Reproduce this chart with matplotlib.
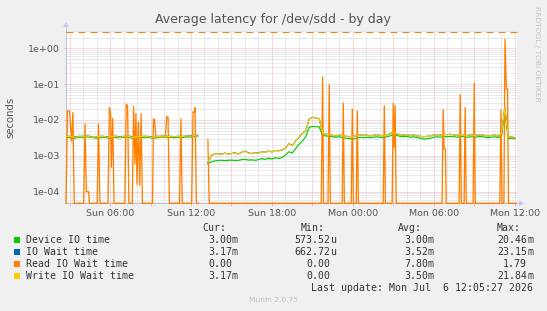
import numpy as np
import matplotlib
matplotlib.use("Agg")
import matplotlib.pyplot as plt
from matplotlib.ticker import FixedLocator, MultipleLocator, LogLocator, FuncFormatter, NullFormatter
from matplotlib.patches import Rectangle, Polygon

nan = float("nan")

# ---------------- data ----------------
# sample times: hours since Sun 00:00, one sample every 15 minutes
t_start = 2.75
t_step = 0.25

device_ms = [
    3.2, 3.3, 3.0, 3.2, 3.3, 3.2, 3.4, 3.3, 3.2, 3.1, 3.2, 3.3, 3.2, 3.1, 3.3, 3.2, 3.2, 3.3, 3.4, 3.2,
    3.1, 3.2, 3.3, 3.2, 3.3, 3.2, 3.1, 3.2, 3.3, 3.4, 3.2, 3.3, 3.2, 3.3, 3.2, 3.3, 3.4, 3.3, 3.5, 3.4,
    nan, nan,
    0.60, 0.68, 0.72, 0.74, 0.75, 0.73, 0.75, 0.76, 0.74, 0.75, 0.78, 0.80, 0.76, 0.77, 0.75, 0.78, 0.84,
    0.80, 0.86, 0.82, 0.88, 0.85, 0.90, 1.05, 1.30, 1.20, 1.60, 2.10, 2.60, 3.40, 6.20, 6.60, 6.50, 6.40,
    3.7, 3.6, 3.5, 3.4, 3.3, 3.4, 3.2, 3.1, 3.0, 2.95, 3.1, 3.3, 3.2, 3.3, 3.2, 3.3, 3.4, 3.3, 3.2, 3.4,
    3.6, 4.0, 3.7, 3.5, 3.4, 3.5, 3.3, 3.4, 3.2, 3.1, 2.95, 3.0, 3.1, 3.3, 3.4, 3.3, 3.5, 3.4, 3.5, 3.4,
    3.3, 3.5, 3.4, 3.3, 3.4, 3.3, 3.4, 3.5, 3.3, 3.2, 3.3, 3.4, 3.2, 3.5, 18.0, 3.0, 3.1, 3.0,
]

iowait_ms = [
    3.5, 3.5, 3.4, 3.4, 3.5, 3.5, 3.6, 3.5, 3.3, 3.4, 3.5, 3.5, 3.4, 3.4, 3.5, 3.5, 3.4, 3.5, 3.6, 3.5,
    3.4, 3.4, 3.5, 3.5, 3.5, 3.4, 3.4, 3.5, 3.5, 3.6, 3.5, 3.5, 3.4, 3.5, 3.5, 3.5, 3.6, 3.6, 3.8, 3.6,
    nan, nan,
    0.66, 1.02, 1.13, 1.16, 1.11, 1.19, 1.13, 1.16, 1.21, 1.13, 1.26, 1.36, 1.21, 1.16, 1.23, 1.19, 1.31,
    1.26, 1.36, 1.29, 1.41, 1.39, 1.46, 1.62, 2.22, 1.92, 2.62, 3.32, 4.22, 5.02, 10.6, 11.9, 11.3, 10.9,
    4.3, 4.0, 3.9, 3.7, 3.6, 3.8, 3.6, 3.5, 3.4, 3.5, 3.6, 3.9, 3.7, 3.8, 3.6, 3.7, 3.9, 3.7, 3.6, 3.8,
    4.2, 4.5, 4.1, 3.9, 3.8, 3.9, 3.7, 3.8, 3.6, 3.5, 3.4, 3.5, 3.6, 3.8, 3.9, 3.8, 4.0, 3.9, 4.0, 3.8,
    3.7, 4.0, 3.8, 3.7, 3.9, 3.7, 3.8, 3.9, 3.7, 3.6, 3.7, 3.8, 3.5, 4.2, 23.1, 3.3, 3.4, 3.17,
]

write_ms = [
    3.4, 3.5, 3.4, 3.3, 3.5, 3.4, 3.6, 3.4, 3.3, 3.4, 3.4, 3.5, 3.3, 3.4, 3.5, 3.4, 3.3, 3.5, 3.6, 3.4,
    3.3, 3.4, 3.5, 3.4, 3.5, 3.3, 3.4, 3.4, 3.5, 3.6, 3.4, 3.5, 3.4, 3.5, 3.4, 3.5, 3.6, 3.5, 3.7, 3.5,
    nan, nan,
    0.69, 1.00, 1.12, 1.15, 1.10, 1.18, 1.12, 1.15, 1.20, 1.12, 1.25, 1.35, 1.20, 1.15, 1.22, 1.18, 1.30,
    1.25, 1.35, 1.28, 1.40, 1.38, 1.45, 1.60, 2.20, 1.90, 2.60, 3.30, 4.20, 5.00, 10.5, 11.8, 11.2, 10.8,
    4.3, 4.0, 3.9, 3.7, 3.6, 3.8, 3.6, 3.5, 3.4, 3.5, 3.6, 3.9, 3.7, 3.8, 3.6, 3.7, 3.9, 3.7, 3.6, 3.8,
    4.2, 4.5, 4.1, 3.9, 3.8, 3.9, 3.7, 3.8, 3.6, 3.5, 3.4, 3.5, 3.6, 3.8, 3.9, 3.8, 4.0, 3.9, 4.0, 3.8,
    3.7, 4.0, 3.8, 3.7, 3.9, 3.7, 3.8, 3.9, 3.7, 3.6, 3.7, 3.8, 3.5, 4.2, 21.8, 3.3, 3.4, 3.17,
]

# read IO wait: irregular spikes (hours since Sun 00:00, milliseconds)
read_t = [
    2.74, 2.85, 3.0, 3.15, 3.25, 3.35,
    4.05, 4.15, 4.25, 4.42, 4.47,
    5.05, 5.15, 5.25,
    5.85, 5.95, 6.05, 6.1, 6.2, 6.3,
    7.1, 7.2, 7.3, 7.4,
    7.65, 7.75, 7.85, 7.92, 8.0, 8.1, 8.2, 8.3, 8.4,
    9.15, 9.22, 9.3, 9.4, 10.1, 10.2, 10.3, 10.4,
    11.15, 11.25, 11.35,
    12.05, 12.15, 12.25, 12.3, 12.4, 12.55,
    12.6,
    13.25, 13.35,
    21.65, 21.75, 21.82,
    22.15, 22.24, 22.32,
    23.2, 23.28, 23.36,
    23.87, 23.95, 24.03,
    24.24, 24.32, 24.4,
    26.24, 26.32, 26.4,
    26.9, 26.98, 27.05, 27.12, 27.2,
    30.6, 30.68, 30.75, 30.85, 30.9,
    31.86, 31.94, 32.02,
    32.23, 32.31, 32.39,
    32.9, 32.98, 33.06,
    34.88, 34.96, 35.04,
    35.18, 35.26, 35.36, 35.45, 35.52,
    36.08,
]
read_ms = [
    0, 18, 18, 2.6, 16, 0,
    0, 7.7, 0.1, 0.1, 0,
    0, 7.7, 0,
    0, 22, 15, 0.48, 11, 0,
    0, 28, 25, 0,
    0, 24, 0.59, 15, 0.16, 8.6, 0.15, 15, 0,
    0, 10.7, 10, 3.4, 3.4, 12.4, 12, 0,
    0, 10.7, 0,
    0, 17, 16, 22, 0, 0,
    nan,
    2.8, 0,
    0, 160, 0,
    0, 96, 0,
    0, 30, 0,
    0, 20, 0,
    0, 18, 0,
    0, 25, 0,
    0, 29, 1.7, 25, 0,
    0, 19.4, 1.55, 1.55, 0,
    0, 51, 0,
    0, 22, 0,
    0, 107, 0,
    0, 19, 0,
    0, 1790, 73, 73, 0,
    0,
]

tick_hours = [6, 12, 18, 24, 30, 36]
tick_labels = ["Sun 06:00", "Sun 12:00", "Sun 18:00", "Mon 00:00", "Mon 06:00", "Mon 12:00"]

legend_names = ["Device IO time", "IO Wait time", "Read IO Wait time", "Write IO Wait time"]
legend_cur = ["3.00m", "3.17m", "0.00", "3.17m"]
legend_min = ["573.52u", "662.72u", "0.00", "0.00"]
legend_avg = ["3.00m", "3.52m", "7.80m", "3.50m"]
legend_max = ["20.46m", "23.15m", "1.79", "21.84m"]

title = "Average latency for /dev/sdd - by day"
last_update = "Last update: Mon Jul  6 12:05:27 2026"

# ---------------- style ----------------
W, H = 547, 311
BG = "#F0F0F0"
COLORS = ["#00CC00", "#0066B3", "#FF8000", "#FFCC00"]
TXT = "#555555"
LEG_TXT = "#333333"
MINOR_GRID = "#d6d6d6"
MAJOR_GRID = "#eeb4b4"
AXIS_COL = "#c4c4dc"

def fx(x):
    return x / W

def fy(y):
    return 1 - y / H

fig = plt.figure(figsize=(W / 100, H / 100), dpi=100, facecolor=BG)

ax_l, ax_r, ax_t, ax_b = 66, 517, 31, 203.3
ax = fig.add_axes([fx(ax_l), fy(ax_b), (ax_r - ax_l) / W, (ax_b - ax_t) / H])
ax.set_facecolor("white")

ymin, ymax = 4.74e-5, 3.04
ax.set_yscale("log")
ax.set_ylim(ymin, ymax)
ax.set_xlim(2.74, 36.15)

t = t_start + t_step * np.arange(len(device_ms))
dev = np.array(device_ms) * 1e-3
iow = np.array(iowait_ms) * 1e-3
wr = np.array(write_ms) * 1e-3
rd = np.array(read_ms) * 1e-3
rd = np.where(rd <= 0, ymin, rd)

lw = 0.85
ax.plot(t, dev, color=COLORS[0], lw=lw, zorder=3)
ax.plot(t, iow, color=COLORS[1], lw=lw, zorder=3.1)
ax.plot(read_t, rd, color=COLORS[2], lw=0.95, zorder=3.2, clip_on=False)
ax.plot(t, wr, color=COLORS[3], lw=lw, zorder=3.3)

# top dashed line
ax.plot([0, 1], [0.997, 0.997], transform=ax.transAxes, color="#FF8000", lw=0.72,
        ls=(0, (7, 5)), dash_capstyle="butt", clip_on=False, zorder=4)

# grid
ax.xaxis.set_major_locator(FixedLocator(np.arange(3, 37, 3)))
ax.xaxis.set_minor_locator(MultipleLocator(1))
lab = dict(zip(tick_hours, tick_labels))
ax.xaxis.set_major_formatter(FuncFormatter(lambda v, p: lab.get(int(round(v)), "")))
ax.yaxis.set_major_locator(LogLocator(base=10, numticks=20))
ax.yaxis.set_minor_locator(LogLocator(base=10, subs=np.arange(2, 10), numticks=20))
ax.yaxis.set_major_formatter(FuncFormatter(lambda v, p: "1e%+03d" % int(round(np.log10(v)))))
ax.yaxis.set_minor_formatter(NullFormatter())

ax.set_axisbelow(True)
ax.grid(which="minor", axis="both", color=MINOR_GRID, lw=0.72, ls=(0, (1, 1)))
ax.grid(which="major", axis="both", color=MAJOR_GRID, lw=0.72, ls=(0, (1, 1)))

for s in ["top", "right"]:
    ax.spines[s].set_visible(False)
for s in ["left", "bottom"]:
    ax.spines[s].set_color(AXIS_COL)
    ax.spines[s].set_linewidth(0.8)

ax.tick_params(axis="x", which="major", length=1.8, width=0.7, color=MAJOR_GRID,
               labelsize=6.8, labelcolor=TXT, pad=2)
ax.tick_params(axis="y", which="major", length=1.8, width=0.7, color=MAJOR_GRID,
               labelsize=6.8, labelcolor=TXT, pad=2.6)
ax.tick_params(which="minor", length=0)

# axis arrows
fig.add_artist(plt.Line2D([fx(ax_r), fx(520)], [fy(ax_b), fy(ax_b)], color=AXIS_COL, lw=0.8))
fig.add_artist(Polygon([[fx(519), fy(ax_b - 3)], [fx(519), fy(ax_b + 3)], [fx(524), fy(ax_b)]],
                       closed=True, facecolor="#c8c8f4", edgecolor="none", transform=fig.transFigure))
fig.add_artist(plt.Line2D([fx(ax_l), fx(ax_l)], [fy(ax_t), fy(26)], color=AXIS_COL, lw=0.8))
fig.add_artist(Polygon([[fx(ax_l - 3), fy(27)], [fx(ax_l + 3), fy(27)], [fx(ax_l), fy(22)]],
                       closed=True, facecolor="#c8c8f4", edgecolor="none", transform=fig.transFigure))

# texts
fig.text(fx(273.4), fy(20), title, ha="center", va="center", fontsize=9, color=TXT)
fig.text(fx(10.5), fy(117), "seconds", ha="center", va="center", rotation=90, fontsize=7.3, color=TXT)
fig.text(fx(537.5), fy(53.5), "RRDTOOL / TOBI OETIKER", ha="center", va="center", rotation=270,
         fontsize=5.4, color="#c4c4c4")
fig.text(fx(273), fy(300), "Munin 2.0.75", ha="center", va="center", fontsize=5.4, color="#c0c0c0")

# legend
mono = dict(family="DejaVu Sans Mono", fontsize=7.1, color=LEG_TXT, va="baseline")
num_right = [232, 330.7, 428, 527]
headers = ["Cur:", "Min:", "Avg:", "Max:"]
base_off = 3.6
hdr_y = 227.7
for h, xr in zip(headers, num_right):
    fig.text(fx(xr - 6), fy(hdr_y + base_off), h, ha="right", **mono)

row_y0, row_dy = 239.5, 12.1
cols = [legend_cur, legend_min, legend_avg, legend_max]
for i, name in enumerate(legend_names):
    yc = row_y0 + i * row_dy
    fig.add_artist(Rectangle((fx(14), fy(yc + 3)), 6 / W, 6 / H, facecolor=COLORS[i],
                             edgecolor="none", transform=fig.transFigure))
    fig.text(fx(26), fy(yc + base_off), name, ha="left", **mono)
    for col, xr in zip(cols, num_right):
        s = col[i]
        if s[-1].isalpha():
            num, unit = s[:-1], s[-1]
        else:
            num, unit = s, ""
        fig.text(fx(xr), fy(yc + base_off), num, ha="right", **mono)
        if unit:
            fig.text(fx(xr), fy(yc + base_off), unit, ha="left", **mono)

fig.text(fx(533), fy(287.7 + base_off), last_update, ha="right", **mono)

fig.savefig("out.png", dpi=100, facecolor=BG)
